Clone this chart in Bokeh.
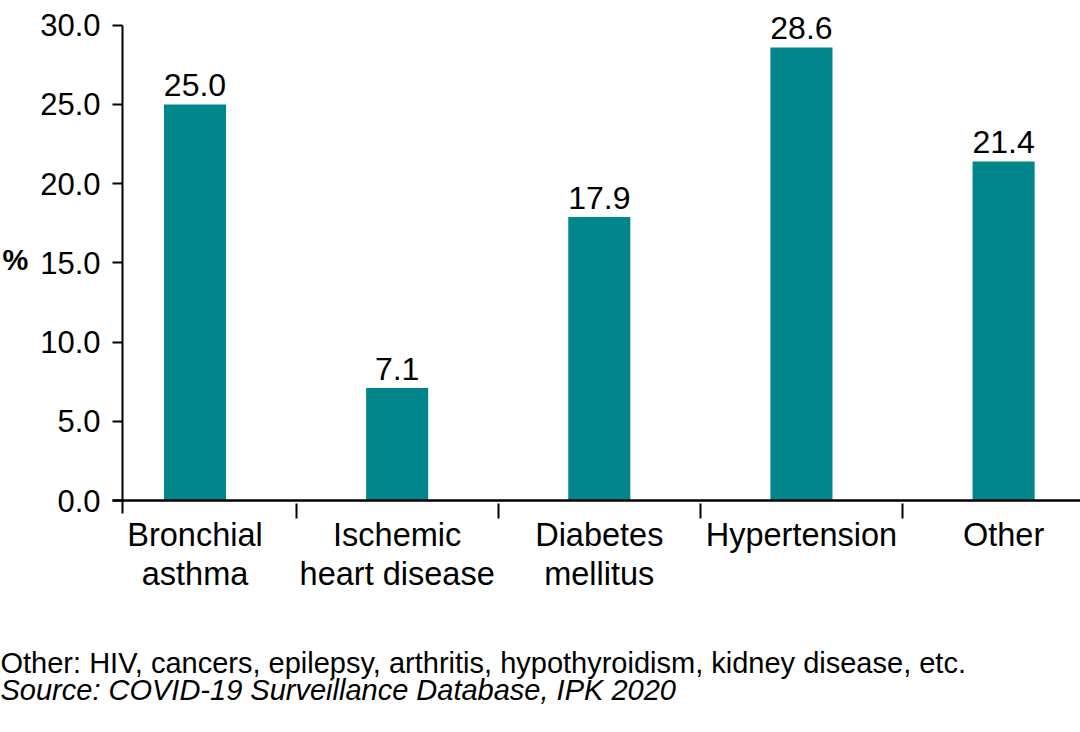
from bokeh.plotting import figure
from bokeh.models import Range1d, FixedTicker, ColumnDataSource, LabelSet, Label, LinearAxis
from bokeh.core.properties import value
from bokeh.embed import file_html
from bokeh.resources import INLINE

# ---- data ----
categories = ["Bronchial\nasthma", "Ischemic\nheart disease", "Diabetes\nmellitus", "Hypertension", "Other"]
values = [25.0, 7.1, 17.9, 28.6, 21.4]
y_ticks = [0, 5, 10, 15, 20, 25, 30]
y_tick_labels = ["0.0", "5.0", "10.0", "15.0", "20.0", "25.0", "30.0"]
y_label = "%"
footnote = "Other: HIV, cancers, epilepsy, arthritis, hypothyroidism, kidney disease, etc."
source_note = "Source: COVID-19 Surveillance Database, IPK 2020"

FONT = "Liberation Sans"
TEAL = "#00868B"

W, H = 1080, 730
PX_X = 202.15       # pixels per category
X0 = 194.5          # pixel of first category centre
PX_Y = 15.843       # pixels per percent
Y0 = 500.0          # pixel of zero line

def xd(px):
    return (px - X0) / PX_X

def yd(py):
    return (Y0 - py) / PX_Y

idx = list(range(len(categories)))
src = ColumnDataSource(dict(x=idx, top=values, label=[f"{v:.1f}" for v in values]))

p = figure(width=W, height=H, output_backend="svg", toolbar_location=None,
           x_range=Range1d(xd(0), xd(W)), y_range=Range1d(yd(H), yd(0)),
           x_axis_location=None, y_axis_location=None,
           min_border_left=0, min_border_right=0, min_border_top=0, min_border_bottom=0)
p.outline_line_color = None
p.grid.visible = False
p.background_fill_color = "white"
p.border_fill_color = "white"

p.vbar(x="x", top="top", bottom=0, width=0.307, fill_color=TEAL, line_color=None, source=src)

# bar value labels
p.add_layout(LabelSet(x="x", y="top", text="label", source=src, y_offset=8,
                      text_align="center", text_baseline="alphabetic",
                      text_font=value(FONT), text_font_size="32px", text_color="black"))

# x axis: baseline at zero, labels at bar centres, tick marks at category boundaries
xa = LinearAxis(fixed_location=0, bounds=(xd(112), xd(W)))
xa.ticker = FixedTicker(ticks=idx, minor_ticks=[i + 0.5 for i in idx[:-1]])
xa.major_label_overrides = {i: c for i, c in zip(idx, categories)}
xa.axis_line_color = "black"
xa.axis_line_width = 2.5
xa.major_tick_line_color = None
xa.major_tick_in = 0
xa.major_tick_out = 0
xa.minor_tick_line_color = "black"
xa.minor_tick_line_width = 2
xa.minor_tick_in = -3
xa.minor_tick_out = 18
xa.major_label_text_font = FONT
xa.major_label_text_font_size = "32.5px"
xa.major_label_text_color = "black"
xa.major_label_text_line_height = 1.1
xa.major_label_standoff = -2
p.add_layout(xa, "below")

# y axis
ya = LinearAxis(fixed_location=xd(122), bounds=(yd(513), 30))
ya.ticker = FixedTicker(ticks=y_ticks)
ya.major_label_overrides = {t: l for t, l in zip(y_ticks, y_tick_labels)}
ya.axis_line_color = "black"
ya.axis_line_width = 2
ya.major_tick_line_color = "black"
ya.major_tick_line_width = 2
ya.major_tick_in = 0
ya.major_tick_out = 10
ya.minor_tick_line_color = None
ya.major_label_text_font = FONT
ya.major_label_text_font_size = "31px"
ya.major_label_text_color = "black"
ya.major_label_standoff = 12
p.add_layout(ya, "left")

p.add_layout(Label(x=2, x_units="screen", y=15, y_units="data", y_offset=3, text=y_label,
                   text_font=FONT, text_font_size="29px", text_font_style="bold",
                   text_baseline="middle", text_align="left", text_color="black"))

p.add_layout(Label(x=0, x_units="screen", y=H - 662, y_units="screen", text=footnote,
                   text_font=FONT, text_font_size="29px", text_baseline="alphabetic",
                   text_align="left", text_color="black"))
p.add_layout(Label(x=0, x_units="screen", y=H - 689, y_units="screen", text=source_note,
                   text_font=FONT, text_font_size="29px", text_font_style="italic",
                   text_baseline="alphabetic", text_align="left", text_color="black"))

open("out.html", "w").write(file_html(p, INLINE))
